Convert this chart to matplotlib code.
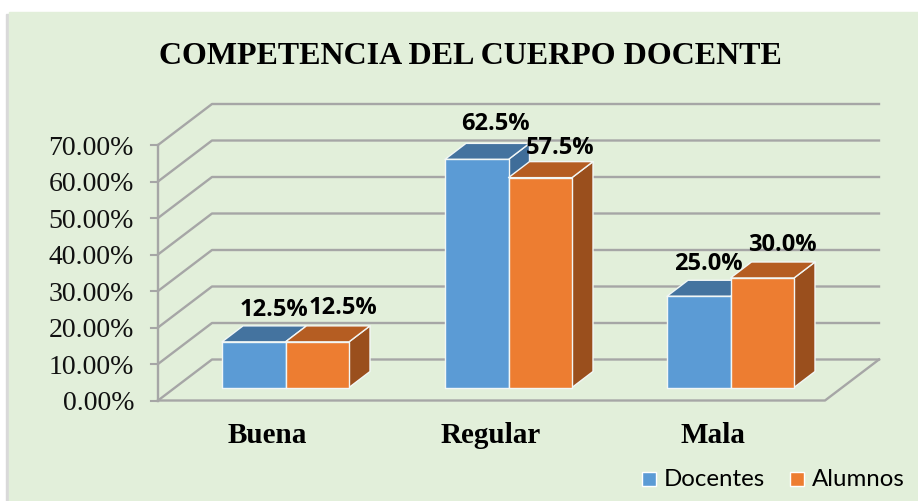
import matplotlib
matplotlib.use("Agg")
import matplotlib.pyplot as plt
from matplotlib.patches import Polygon, Rectangle

# datos
categorias = ["Buena", "Regular", "Mala"]
docentes = [12.5, 62.5, 25.0]
alumnos = [12.5, 57.5, 30.0]
ticks = [0, 10, 20, 30, 40, 50, 60, 70]
tick_labels = ["0.00%", "10.00%", "20.00%", "30.00%", "40.00%", "50.00%", "60.00%", "70.00%"]

# geometria del grafico 3D (pixeles)
x0, x1 = 158, 825      # plano frontal
y0 = 401.5
dx, dy = 54, 41        # profundidad de la caja
px_por_pct = 3.65
base_y = 388.5
grupo_x = [222, 445, 667]
ancho = 63.5
bx, by = 21, 16        # profundidad de las barras

gris = "#a6a6a6"
fig = plt.figure(figsize=(9.18, 5.02), dpi=100)
ax = fig.add_axes([0, 0, 1, 1])
ax.set_xlim(0, 918)
ax.set_ylim(502, 0)
ax.axis("off")

# fondo
ax.add_patch(Rectangle((6, 15), 4, 487, color="#d9d9d9", zorder=0))
ax.add_patch(Rectangle((9, 13), 909, 489, color="#e2efda", zorder=0))


def yv(v):
    return y0 - v * px_por_pct


# lineas de la cuadricula
for t, lab in zip(ticks, tick_labels):
    y = yv(t)
    ax.plot([x0, x0 + dx, x1 + dx], [y, y - dy, y - dy], color=gris, lw=1.7, zorder=1)
    ax.plot([x0 - 7, x0], [y, y], color=gris, lw=1.5, zorder=1)
    ax.text(134, y + 2.5, lab, ha="right", va="center", family="Liberation Serif", fontsize=20, color="#111111")
ax.plot([x0, x0], [yv(0), yv(70)], color=gris, lw=1.7, zorder=1)
ax.plot([x0, x1, x1 + dx], [y0, y0, y0 - dy], color=gris, lw=1.7, zorder=1)


def barra(x, v, frente, arriba, lado):
    top = base_y - v * px_por_pct
    r = x + ancho
    borde = dict(edgecolor="#f2f7f6", lw=1, joinstyle="round", zorder=3)
    ax.add_patch(Polygon([(r, base_y), (r + bx, base_y - by), (r + bx, top - by), (r, top)], facecolor=lado, **borde))
    ax.add_patch(Polygon([(x, top), (x + bx, top - by), (r + bx, top - by), (r, top)], facecolor=arriba, **borde))
    ax.add_patch(Rectangle((x, top), ancho, v * px_por_pct, facecolor=frente, **borde))


for i, x in enumerate(grupo_x):
    barra(x, docentes[i], "#5b9bd5", "#44739f", "#3f6d99")
    barra(x + ancho, alumnos[i], "#ed7d31", "#b55d22", "#9a4f1d")

# etiquetas de datos
doc_off = [(20, -33), (19, -36), (10, -33)]
alu_off = [(26, -35), (20, -31), (20, -34)]
for i, x in enumerate(grupo_x):
    for vals, off, xb in ((docentes, doc_off, x), (alumnos, alu_off, x + ancho)):
        top = base_y - vals[i] * px_por_pct
        ax.text(xb + ancho / 2 + off[i][0], top + off[i][1], "%.1f%%" % vals[i], ha="center", va="center",
                family="Open Sans", weight="bold", fontsize=17, color="black", zorder=5)

# categorias
for x, c in zip(grupo_x, categorias):
    ax.text(x + 45.5, 436, c, ha="center", va="center", family="Liberation Serif", weight="bold", fontsize=21, color="black")

ax.text(470, 56, "COMPETENCIA DEL CUERPO DOCENTE", ha="center", va="center",
        family="Liberation Serif", weight="bold", fontsize=23, color="black")

# leyenda
for xs, col, txt in ((642, "#5b9bd5", "Docentes"), (790, "#ed7d31", "Alumnos")):
    ax.add_patch(Rectangle((xs, 473), 14, 14, facecolor=col, edgecolor="white", lw=1))
    ax.text(xs + 22, 480, txt, ha="left", va="center", family="Lato", fontsize=17.3, color="black")

fig.savefig("out.png", dpi=100)
